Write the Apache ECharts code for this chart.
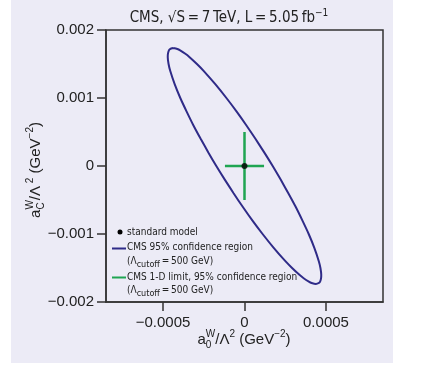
<!DOCTYPE html>
<html lang="en">
<head>
<meta charset="UTF-8">
<style>
html, body { height: 100%; margin: 0; background: #fff; }
</style>
</head>
<body>
<div id="chart" style="width:424px;height:365px;"></div>
<script src="https://cdn.jsdelivr.net/npm/echarts@6.0.0/dist/echarts.min.js"></script>
<script>
// CMS 95% CL contour in the (a0W, aCW) plane
var contourA0 = [-4.38e-4, -4.12e-4, -3.95e-4, -3.63e-4, -3.37e-4, -2.92e-4, -2.51e-4, -1.78e-4, -1.11e-4, -0.48e-4,
    0.11e-4, 0.67e-4, 1.21e-4, 1.73e-4, 2.22e-4, 2.69e-4, 3.14e-4, 3.55e-4, 3.94e-4, 4.28e-4,
    4.56e-4, 4.66e-4, 4.71e-4, 4.70e-4, 4.64e-4, 4.57e-4, 4.38e-4, 4.12e-4, 3.95e-4, 3.63e-4,
    3.37e-4, 2.92e-4, 2.51e-4, 1.78e-4, 1.11e-4, 0.48e-4, -0.11e-4, -0.67e-4, -1.21e-4, -1.73e-4,
    -2.22e-4, -2.69e-4, -3.14e-4, -3.55e-4, -3.94e-4, -4.28e-4, -4.56e-4, -4.66e-4, -4.71e-4, -4.70e-4,
    -4.64e-4, -4.57e-4, -4.38e-4];
var contourAC = [17.35e-4, 17.2e-4, 17.0e-4, 16.5e-4, 16.0e-4, 15.0e-4, 14.0e-4, 12.0e-4, 10.0e-4, 8.0e-4,
    6.0e-4, 4.0e-4, 2.0e-4, 0, -2.0e-4, -4.0e-4, -6.0e-4, -8.0e-4, -10.0e-4, -12.0e-4,
    -14.0e-4, -15.0e-4, -16.0e-4, -16.5e-4, -17.0e-4, -17.2e-4, -17.35e-4, -17.2e-4, -17.0e-4, -16.5e-4,
    -16.0e-4, -15.0e-4, -14.0e-4, -12.0e-4, -10.0e-4, -8.0e-4, -6.0e-4, -4.0e-4, -2.0e-4, 0,
    2.0e-4, 4.0e-4, 6.0e-4, 8.0e-4, 10.0e-4, 12.0e-4, 14.0e-4, 15.0e-4, 16.0e-4, 16.5e-4,
    17.0e-4, 17.2e-4, 17.35e-4];

var standardModel = [0, 0];
var limitA0 = [-1.2e-4, 1.2e-4];   // 1-D limit on a0 (aC = 0)
var limitAC = [-5e-4, 5e-4];       // 1-D limit on aC (a0 = 0)

var xTicks = [-0.0005, 0, 0.0005];
var xTickLabels = ['\u22120.0005', '0', '0.0005'];
var yTicks = [-0.002, -0.001, 0, 0.001, 0.002];
var yTickLabels = ['\u22120.002', '\u22120.001', '0', '0.001', '0.002'];

var BG = '#ecebf6';
var INK = '#222';
var BLUE = '#2f2b88';
var GREEN = '#1fa552';
var SANS = '"Liberation Sans", Arial, sans-serif';
var NARROW = '"Liberation Sans Narrow", "DejaVu Sans Condensed", sans-serif';

function tickLabel(ticks, labels) {
    return function (v) {
        for (var i = 0; i < ticks.length; i++) {
            if (Math.abs(ticks[i] - v) < 1e-9) return labels[i];
        }
        return '';
    };
}

// little helper to lay out text with super/subscripts
var ctx = document.createElement('canvas').getContext('2d');
function textW(str, size, fam) {
    ctx.font = size + 'px ' + fam;
    return ctx.measureText(str).width;
}
function formula(tokens, fam, x, y, rotation, centered) {
    var pos = 0, kids = [];
    tokens.forEach(function (tk) {
        kids.push({
            type: 'text', x: pos, y: tk.dy || 0,
            style: {text: tk.t, font: tk.s + 'px ' + fam, fill: INK,
                textAlign: 'left', textVerticalAlign: 'middle', align: 'left', verticalAlign: 'middle'}
        });
        if (!tk.keep) pos += textW(tk.t, tk.s, fam);
    });
    if (centered) kids.forEach(function (k) { k.x -= pos / 2; });
    return {type: 'group', x: x, y: y, rotation: rotation || 0, children: kids};
}

var contour = contourA0.map(function (v, i) { return [v, contourAC[i]]; });

var myChart = echarts.init(document.getElementById('chart'));
myChart.setOption({
    animation: false,
    backgroundColor: '#fff',
    grid: {
        left: 106, right: 41, top: 30, bottom: 63,
        show: true, borderColor: '#333', borderWidth: 1.5
    },
    xAxis: {
        type: 'value',
        min: -0.00085, max: 0.00085,
        splitLine: {show: false},
        axisLine: {onZero: false, lineStyle: {color: '#333', width: 1.5}},
        axisTick: {length: 9, customValues: xTicks, lineStyle: {color: '#333', width: 1.5}},
        axisLabel: {customValues: xTicks, formatter: tickLabel(xTicks, xTickLabels),
            margin: 13, fontSize: 15, color: INK, fontFamily: SANS}
    },
    yAxis: {
        type: 'value',
        min: -0.002, max: 0.002, interval: 0.001,
        splitLine: {show: false},
        axisLine: {onZero: false, lineStyle: {color: '#333', width: 1.5}},
        axisTick: {length: 9, lineStyle: {color: '#333', width: 1.5}},
        axisLabel: {formatter: tickLabel(yTicks, yTickLabels),
            margin: 12, fontSize: 15, color: INK, fontFamily: SANS}
    },
    series: [
        {
            name: 'CMS 95% confidence region',
            type: 'line',
            data: contour,
            smooth: 0.25,
            symbol: 'none',
            lineStyle: {color: BLUE, width: 2}
        },
        {
            name: 'CMS 1-D limit a0',
            type: 'line',
            data: limitA0.map(function (v) { return [v, standardModel[1]]; }),
            symbol: 'none',
            lineStyle: {color: GREEN, width: 2.5}
        },
        {
            name: 'CMS 1-D limit aC',
            type: 'line',
            data: limitAC.map(function (v) { return [standardModel[0], v]; }),
            symbol: 'none',
            lineStyle: {color: GREEN, width: 2.5}
        },
        {
            name: 'standard model',
            type: 'scatter',
            data: [standardModel],
            symbolSize: 6,
            itemStyle: {color: '#000'},
            z: 5
        }
    ],
    graphic: [
        {type: 'rect', z: -100, silent: true, shape: {x: 11, y: 0, width: 382, height: 363}, style: {fill: BG}},
        formula([{t: 'CMS, \u221aS\u2009=\u20097\u2009TeV, L\u2009=\u20095.05\u2009fb', s: 15},
            {t: '\u22121', s: 10, dy: -5}], NARROW, 229, 18, 0, true),
        formula([{t: 'a', s: 15}, {t: '0', s: 10, dy: 5, keep: true}, {t: 'W', s: 10, dy: -6},
            {t: '/\u039b', s: 15}, {t: '2', s: 10, dy: -6}, {t: ' (GeV', s: 15},
            {t: '\u22122', s: 10, dy: -6}, {t: ')', s: 15}], SANS, 244, 340, 0, true),
        formula([{t: 'a', s: 15}, {t: 'C', s: 10, dy: 5, keep: true}, {t: 'W', s: 10, dy: -6},
            {t: '/\u039b', s: 15}, {t: ' 2', s: 10, dy: -6}, {t: ' (GeV', s: 15},
            {t: '\u22122', s: 10, dy: -6}, {t: ')', s: 15}], SANS, 36, 170, Math.PI / 2, true),
        // legend
        {type: 'circle', shape: {cx: 120, cy: 232, r: 2.5}, style: {fill: '#000'}},
        formula([{t: 'standard model', s: 10}], NARROW, 127, 232),
        {type: 'line', shape: {x1: 112, y1: 248.5, x2: 126, y2: 248.5}, style: {stroke: BLUE, lineWidth: 2}},
        formula([{t: 'CMS 95% confidence region', s: 10}], NARROW, 127, 247.5),
        formula([{t: '(\u039b', s: 10}, {t: 'cutoff', s: 9, dy: 3.5}, {t: '\u2009=\u2009500 GeV)', s: 10}], NARROW, 127, 261),
        {type: 'line', shape: {x1: 112, y1: 277.5, x2: 126, y2: 277.5}, style: {stroke: GREEN, lineWidth: 2}},
        formula([{t: 'CMS 1-D limit, 95% confidence region', s: 10}], NARROW, 127, 277),
        formula([{t: '(\u039b', s: 10}, {t: 'cutoff', s: 9, dy: 3.5}, {t: '\u2009=\u2009500 GeV)', s: 10}], NARROW, 127, 290)
    ]
});
</script>
</body>
</html>
